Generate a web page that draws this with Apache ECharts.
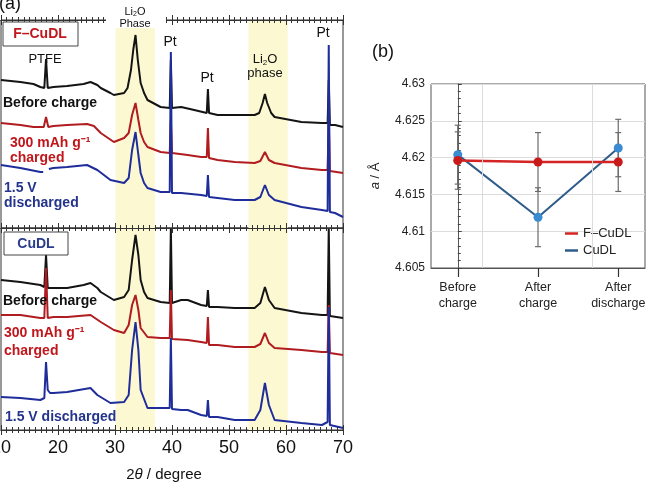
<!DOCTYPE html>
<html>
<head>
<meta charset="utf-8">
<script src="https://cdn.jsdelivr.net/npm/echarts@6/dist/echarts.min.js"></script>
<style>
  html, body { margin: 0; padding: 0; background: #fff; }
  #main { width: 655px; height: 491px; }
</style>
</head>
<body>
<div id="main"></div>
<script>
// XRD patterns, [2theta, offset intensity] (stacked, arbitrary units)
var fBefore = [[10,148],[13.4,146],[15.7,144],[16.9,141],[17.6,140],[17.9,169],[18.2,140],[19.2,141],[21.6,142],[24.5,144],[25.7,146],[26.9,143],[27.5,140],[29.2,135],[29.8,133],[31.6,135],[32.2,140],[32.8,158],[33.2,178],[33.6,193],[34.0,168],[34.5,145],[35.1,135],[35.7,128],[38.0,121],[39.6,120],[39.8,168],[40.0,120],[41.6,121],[43.9,118],[46.1,115],[46.3,139],[46.5,115],[48.0,113],[51.0,113],[54.5,113],[55.3,115],[55.9,125],[56.3,134],[56.7,125],[57.4,115],[58.0,111],[62.7,106],[66.3,105],[67.3,105],[67.5,148],[67.7,103],[68.6,103],[70,101]];
var fCharged = [[10,105],[13.4,103],[15.7,101],[17.5,101],[17.9,111],[18.3,101],[19.2,102],[21.6,103],[25.1,104],[26.3,102],[27.5,95],[29.8,86],[31.6,90],[32.4,95],[33.0,113],[33.6,125],[34.1,108],[34.5,95],[35.1,86],[35.7,81],[38.0,76],[39.6,75],[39.8,108],[40.0,75],[42.75,73],[45.1,71],[46.1,71],[46.3,100],[46.5,70],[48.0,68],[51.0,66],[54.5,65],[55.5,67],[56.3,76],[57.0,68],[58.0,65],[62.7,60],[66.3,58],[67.3,58],[67.5,108],[67.7,57],[70,55]];
var fDischarged = [[10,63],[13.4,60],[16.9,56],[17.4,56],[17.9,null],[18.4,59],[19.2,60],[21.6,61],[25.1,63],[26.9,58],[29.2,48],[31.6,45],[32.4,50],[33.0,78],[33.6,96],[34.1,73],[34.5,55],[35.1,45],[35.7,40],[38.0,36],[39.6,36],[39.8,176],[40.0,35],[41.6,35],[45.1,33],[46.1,32],[46.3,53],[46.5,31],[48.0,30],[51.0,28],[54.5,28],[55.5,31],[56.3,43],[57.0,33],[58.0,28],[62.7,21],[66.3,18],[67.3,17],[67.5,183],[67.7,16],[68.6,15],[70,11]];

var cBefore = [[10,150],[13.4,148],[16.9,145],[17.6,143],[17.9,175],[18.2,142],[19.2,142],[21.6,142],[24.5,145],[25.7,147],[26.9,142],[27.5,138],[29.8,130],[31.6,133],[32.4,140],[33.0,170],[33.6,195],[34.1,175],[34.5,150],[35.1,138],[35.7,132],[38.0,128],[39.6,127],[39.8,202],[40.0,127],[41.6,130],[42.75,130],[45.1,125],[46.1,124],[46.3,140],[46.5,123],[48.0,123],[51.0,122],[54.5,122],[55.5,127],[56.3,143],[57.0,130],[58.0,122],[62.7,117],[66.3,115],[67.3,115],[67.5,202],[67.7,114],[70,112]];
var cCharged = [[10,115],[13.4,115],[16.9,112],[17.6,112],[17.9,162],[18.2,112],[19.2,113],[21.6,113],[25.7,115],[27.5,108],[29.8,100],[31.6,97],[32.4,105],[33.0,125],[33.6,135],[34.1,120],[34.5,102],[35.7,93],[38.0,92],[39.6,92],[39.8,140],[40.0,91],[42.75,90],[45.1,88],[46.1,87],[46.3,113],[46.5,85],[48.0,85],[51.0,83],[54.5,83],[55.5,86],[56.3,97],[57.0,87],[58.0,82],[62.7,80],[66.3,78],[67.3,78],[67.5,125],[67.7,77],[70,75]];
var cDischarged = [[10,33],[13.4,32],[16.9,30],[17.6,32],[17.9,68],[18.2,40],[18.6,37],[19.2,37],[21.6,38],[25.7,42],[26.9,35],[29.2,27],[31.6,28],[32.4,35],[33.0,80],[33.6,108],[34.1,80],[34.5,40],[35.7,22],[38.0,22],[39.6,22],[39.8,92],[40.0,21],[41.6,20],[42.75,20],[45.1,15],[46.1,14],[46.3,30],[46.5,13],[48.0,13],[51.0,10],[54.5,10],[55.5,20],[56.3,47],[57.0,25],[58.0,10],[62.7,7],[66.3,5],[67.3,8],[67.5,123],[67.7,5],[70,2]];

// Li2O phase regions (2theta)
var li2oBands = [[30.1, 37.0], [53.4, 60.3]];

// lattice parameter a / Å
var stages = ['Before\ncharge', 'After\ncharge', 'After\ndischarge'];
var fLattice = [4.6196, 4.6194, 4.6194];
var fErr = [0.0039, 0.004, 0.004];
var cLattice = [4.6204, 4.6119, 4.6213];
var cErr = [0.004, 0.004, 0.0039];

var FONT = 'Liberation Sans, Arial, sans-serif';
var BLACK = '#141414', RED = '#b01c1f', BLUE = '#1f2d9a';

var myChart = echarts.init(document.getElementById('main'));

function tickAxis(gi, pos, inside, showLabel) {
  return {
    type: 'value', gridIndex: gi, position: pos, min: 10, max: 70, interval: 10, z: 10,
    axisLine: { show: true, onZero: false, lineStyle: { color: '#333', width: 1 } },
    axisTick: { show: true, inside: inside, length: 5, lineStyle: { color: '#333' } },
    minorTick: { show: true, splitNumber: 10, length: 3, lineStyle: { color: '#333' } },
    axisLabel: showLabel ? { show: true, fontSize: 18, color: '#111', fontFamily: FONT, margin: 9 } : { show: false },
    splitLine: { show: false }
  };
}

function xrd(name, data, color, xi, yi, bands) {
  var s = {
    name: name, type: 'line', data: data, xAxisIndex: xi, yAxisIndex: yi,
    showSymbol: false, connectNulls: false, animation: false,
    lineStyle: { color: color, width: 2 }, itemStyle: { color: color }
  };
  if (bands) {
    s.markArea = {
      silent: true, itemStyle: { color: '#fcf9d2' },
      data: li2oBands.map(function (b) { return [{ xAxis: b[0] }, { xAxis: b[1] }]; })
    };
  }
  return s;
}

function errBars(vals, errs) {
  return vals.map(function (v, i) { return [i, v - errs[i], v + errs[i]]; });
}

function renderErr(params, api) {
  var x = api.value(0);
  var lo = api.coord([x, api.value(1)]);
  var hi = api.coord([x, api.value(2)]);
  var st = { stroke: '#6b6b6b', lineWidth: 1.2 };
  return {
    type: 'group', children: [
      { type: 'line', shape: { x1: lo[0], y1: lo[1], x2: hi[0], y2: hi[1] }, style: st },
      { type: 'line', shape: { x1: lo[0] - 3, y1: lo[1], x2: lo[0] + 3, y2: lo[1] }, style: st },
      { type: 'line', shape: { x1: hi[0] - 3, y1: hi[1], x2: hi[0] + 3, y2: hi[1] }, style: st }
    ]
  };
}

function txt(text, x, y, opt) {
  opt = opt || {};
  return {
    type: 'text', x: x, y: y, z: 100,
    style: {
      text: text, fontFamily: FONT, fontSize: opt.size || 14, fontWeight: opt.bold ? 'bold' : 'normal',
      fill: opt.color || '#111', align: opt.align || 'left', verticalAlign: 'middle',
      lineHeight: opt.lh, rich: opt.rich
    }
  };
}

var liRich = {
  a: { fontSize: 13, fontFamily: FONT, fill: '#111', lineHeight: 13 },
  s: { fontSize: 8, fontFamily: FONT, fill: '#111', verticalAlign: 'bottom', padding: [6, 0, 0, 0] }
};
var liRichSmall = {
  a: { fontSize: 11, fontFamily: FONT, fill: '#111', lineHeight: 12 },
  s: { fontSize: 7, fontFamily: FONT, fill: '#111', padding: [5, 0, 0, 0] }
};

var option = {
  backgroundColor: '#fff',
  animation: false,
  grid: [
    { left: 1, top: 20, width: 342, height: 208, show: true, borderColor: '#333', borderWidth: 1, outerBoundsMode: 'none', containLabel: false },
    { left: 1, top: 228, width: 342, height: 202, show: true, borderColor: '#333', borderWidth: 1, outerBoundsMode: 'none', containLabel: false },
    { left: 431, top: 84, width: 214, height: 184, show: true, borderColor: '#555', borderWidth: 1, outerBoundsMode: 'none', containLabel: false }
  ],
  xAxis: [
    tickAxis(0, 'top', true, false),
    tickAxis(0, 'top', false, false),
    tickAxis(0, 'bottom', true, false),
    tickAxis(0, 'bottom', false, false),
    tickAxis(1, 'bottom', true, false),
    tickAxis(1, 'bottom', false, true),
    {
      type: 'value', gridIndex: 2, min: -1 / 3, max: 7 / 3,
      axisLine: { show: true, onZero: false, lineStyle: { color: '#555' } },
      axisTick: { show: true, customValues: [0, 1, 2], length: 9, lineStyle: { color: '#333', width: 1.2 } },
      axisLabel: {
        customValues: [0, 1, 2], fontSize: 12.5, color: '#222', fontFamily: FONT, lineHeight: 16, margin: 12,
        formatter: function (v) { return stages[Math.round(v)]; }
      },
      splitLine: { show: false }
    }
  ],
  yAxis: [
    { type: 'value', gridIndex: 0, min: 0, max: 208, show: false },
    { type: 'value', gridIndex: 1, min: 0, max: 202, show: false },
    {
      type: 'value', gridIndex: 2, min: 4.605, max: 4.63, interval: 0.005,
      name: '{i|a} / Å', nameLocation: 'middle', nameGap: 49, nameRotate: 90,
      nameTextStyle: { fontSize: 13, color: '#222', fontFamily: FONT, rich: { i: { fontStyle: 'italic', fontSize: 13, fontFamily: FONT, color: '#222' } } },
      axisLine: { show: true, lineStyle: { color: '#555' } },
      axisTick: { show: true, inside: true, length: 4, lineStyle: { color: '#444' } },
      minorTick: { show: true, splitNumber: 5, length: 3, lineStyle: { color: '#444' } },
      axisLabel: { fontSize: 12, color: '#222', fontFamily: FONT, margin: 6 },
      splitLine: { show: true, lineStyle: { color: '#dcdcdc' } }
    }
  ],
  legend: {
    left: 560, top: 222, orient: 'vertical', itemGap: 4, icon: 'rect', itemWidth: 13, itemHeight: 2.5,
    textStyle: { fontSize: 13, color: '#222', fontFamily: FONT },
    data: [{ name: 'F–CuDL', itemStyle: { color: '#d42424' } }, { name: 'CuDL', itemStyle: { color: '#2f5c8a' } }]
  },
  series: [
    xrd('F before', fBefore, BLACK, 0, 0, true),
    xrd('F charged', fCharged, RED, 0, 0),
    xrd('F discharged', fDischarged, BLUE, 0, 0),
    xrd('C before', cBefore, BLACK, 4, 1, true),
    xrd('C charged', cCharged, RED, 4, 1),
    xrd('C discharged', cDischarged, BLUE, 4, 1),
    {
      type: 'custom', xAxisIndex: 6, yAxisIndex: 2, renderItem: renderErr, z: 2, silent: true,
      data: errBars(cLattice, cErr).concat(errBars(fLattice, fErr)),
      markLine: {
        silent: true, symbol: 'none', label: { show: false },
        lineStyle: { color: '#dcdcdc', type: 'solid', width: 1 },
        data: [{ xAxis: 0.31 }, { xAxis: 1.68 }]
      }
    },
    {
      name: 'CuDL', type: 'line', xAxisIndex: 6, yAxisIndex: 2, z: 3,
      data: cLattice.map(function (v, i) { return [i, v]; }),
      symbol: 'circle', symbolSize: 9,
      lineStyle: { color: '#2f5c8a', width: 2 }, itemStyle: { color: '#3a8bd0' }
    },
    {
      name: 'F–CuDL', type: 'line', xAxisIndex: 6, yAxisIndex: 2, z: 4,
      data: fLattice.map(function (v, i) { return [i, v]; }),
      symbol: 'circle', symbolSize: 9,
      lineStyle: { color: '#d42424', width: 2.5 }, itemStyle: { color: '#c81a1a' }
    }
  ],
  graphic: [
    txt('(a)', -1, 4, { size: 18 }),
    txt('(b)', 372, 52, { size: 18 }),
    // top panel labels
    { type: 'rect', z: 99, shape: { x: 106, y: 0, width: 60, height: 28 }, style: { fill: '#fff' } },
    txt('{a|Li}{s|2}{a|O}\n{a|Phase}', 135, 18, { align: 'center', rich: liRichSmall, size: 11 }),
    { type: 'rect', z: 99, shape: { x: 3, y: 22, width: 75, height: 24 }, style: { fill: '#fff', stroke: '#444', lineWidth: 1 } },
    txt('F–CuDL', 40, 34, { bold: true, color: '#c0161c', align: 'center' }),
    txt('PTFE', 45, 59, { size: 13, align: 'center' }),
    txt('Pt', 170, 42, { size: 14, align: 'center' }),
    txt('Pt', 207, 78, { size: 14, align: 'center' }),
    txt('Pt', 323, 33, { size: 14, align: 'center' }),
    txt('{a|Li}{s|2}{a|O}\n{a|phase}', 265, 66, { align: 'center', rich: liRich, size: 13 }),
    txt('Before charge', 3, 103, { bold: true }),
    txt('300 mAh g⁻¹', 10, 143, { bold: true, color: '#c0161c' }),
    txt('charged', 10, 158, { bold: true, color: '#c0161c' }),
    txt('1.5 V', 4, 188, { bold: true, color: '#24348c' }),
    txt('discharged', 4, 203, { bold: true, color: '#24348c' }),
    // bottom panel labels
    { type: 'rect', z: 99, shape: { x: 4, y: 232, width: 64, height: 23 }, style: { fill: '#fff', stroke: '#444', lineWidth: 1 } },
    txt('CuDL', 36, 244, { bold: true, color: '#2a3c8c', align: 'center' }),
    txt('Before charge', 3, 301, { bold: true }),
    txt('300 mAh g⁻¹', 4, 333, { bold: true, color: '#c0161c' }),
    txt('charged', 4, 351, { bold: true, color: '#c0161c' }),
    txt('1.5 V discharged', 5, 417, { bold: true, color: '#24348c' }),
    txt('{n|2}{i|θ}{n| / degree}', 164, 475, {
      align: 'center', size: 15,
      rich: { n: { fontSize: 15, fontFamily: FONT, fill: '#111' }, i: { fontSize: 15, fontFamily: FONT, fontStyle: 'italic', fill: '#111' } }
    })
  ]
};

myChart.setOption(option);
</script>
</body>
</html>
